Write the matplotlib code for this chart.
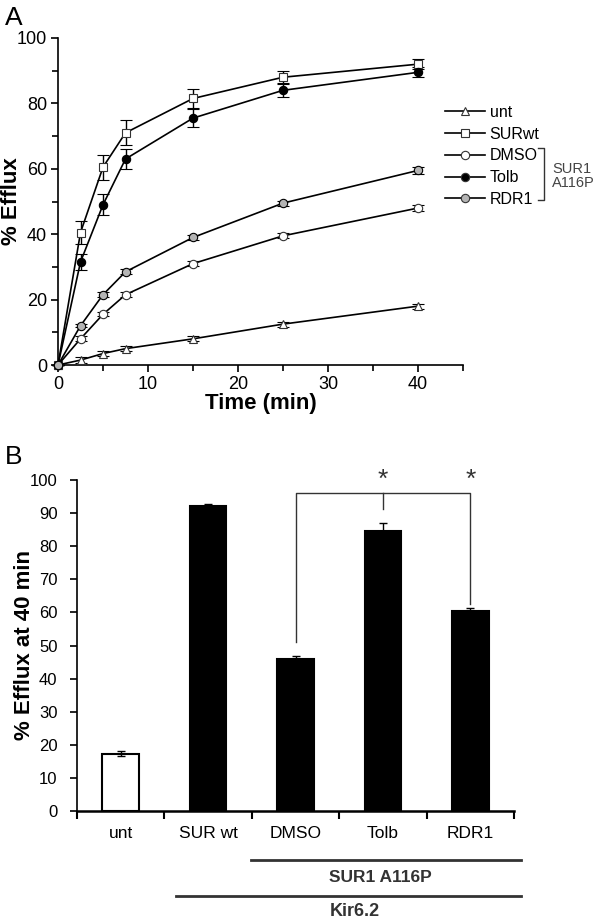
"""Efflux time course (A) and efflux at 40 min (B)."""
import matplotlib
matplotlib.use("Agg")
import matplotlib.pyplot as plt
from matplotlib.lines import Line2D
from matplotlib.ticker import MultipleLocator, FixedLocator
import numpy as np

plt.rcParams["font.family"] = ["Liberation Sans", "DejaVu Sans"]

# ---- panel A data ----
time_min = [0, 2.5, 5, 7.5, 15, 25, 40]
eff_unt = [0, 1.5, 3.5, 5.0, 8.0, 12.5, 18.0]
err_unt = [0, 0.8, 0.8, 0.8, 0.8, 0.8, 0.8]
eff_surwt = [0, 40.5, 60.5, 71.0, 81.5, 88.0, 92.0]
err_surwt = [0, 3.5, 3.8, 3.8, 2.8, 1.8, 1.5]
eff_dmso = [0, 8.0, 15.5, 21.5, 31.0, 39.5, 48.0]
err_dmso = [0, 0.8, 0.6, 0.8, 0.8, 0.8, 0.8]
eff_tolb = [0, 31.5, 49.0, 63.0, 75.5, 84.0, 89.5]
err_tolb = [0, 2.5, 3.2, 3.2, 2.8, 2.0, 1.5]
eff_rdr1 = [0, 12.0, 21.5, 28.5, 39.0, 49.5, 59.5]
err_rdr1 = [0, 0.5, 0.8, 0.8, 0.8, 0.8, 1.0]

# ---- panel B data ----
groups = ["unt", "SUR wt", "DMSO", "Tolb", "RDR1"]
eff40 = [17.3, 92.0, 46.0, 84.5, 60.5]
err40 = [0.7, 0.8, 0.8, 2.5, 0.8]
bar_fill = ["white", "black", "black", "black", "black"]

fig = plt.figure(figsize=(6, 9.24), dpi=100)

# ================= A =================
axA = fig.add_axes([58 / 600, 1 - 365 / 924, 405 / 600, 327 / 924])
series = [
    ("unt", eff_unt, err_unt, "^", "white"),
    ("SURwt", eff_surwt, err_surwt, "s", "white"),
    ("DMSO", eff_dmso, err_dmso, "o", "white"),
    ("Tolb", eff_tolb, err_tolb, "o", "black"),
    ("RDR1", eff_rdr1, err_rdr1, "o", "#b4b4b4"),
]
handles = []
for name, y, e, mk, fc in series:
    axA.errorbar(time_min, y, yerr=e, color="black", lw=1.2, marker=mk,
                 ms=6, mfc=fc, mec="black" if fc != "white" else "#333333",
                 mew=0.8, capsize=4, elinewidth=1.0, capthick=1.0, clip_on=False, zorder=3)
    handles.append(Line2D([], [], color="black", lw=1.2, marker=mk, ms=6,
                          mfc=fc, mec="#333333", mew=0.8))

axA.set_xlim(0, 45)
axA.set_ylim(0, 100)
axA.xaxis.set_major_locator(MultipleLocator(10))
axA.xaxis.set_minor_locator(MultipleLocator(5))
axA.yaxis.set_major_locator(MultipleLocator(20))
axA.yaxis.set_minor_locator(MultipleLocator(10))
axA.set_xticks([0, 10, 20, 30, 40])
for s in ("top", "right"):
    axA.spines[s].set_visible(False)
for s in ("left", "bottom"):
    axA.spines[s].set_linewidth(1.2)
axA.tick_params(which="major", direction="out", length=5, width=1.2, labelsize=13, pad=3)
axA.tick_params(which="minor", direction="out", length=4, width=1.2)
axA.set_xlabel("Time (min)", fontsize=16, fontweight="bold", labelpad=0)
axA.set_ylabel("% Efflux", fontsize=16, fontweight="bold")
axA.yaxis.set_label_coords((22 - 58) / 405, 0.5)

fig.legend(handles, [s[0] for s in series], loc="upper left",
           bbox_to_anchor=(445 / 600, 1 - 105 / 924), frameon=False,
           fontsize=11.5, handlelength=2.5, handletextpad=0.3,
           labelspacing=0.42, borderaxespad=0, borderpad=0)

# bracket grouping the SUR1 A116P entries
bx = 544 / 600
fig.add_artist(Line2D([bx - 6 / 600, bx, bx, bx - 6 / 600],
                      [1 - 148 / 924, 1 - 148 / 924, 1 - 200 / 924, 1 - 200 / 924],
                      color="#333333", lw=1.0, transform=fig.transFigure))
fig.text(552 / 600, 1 - 176 / 924, "SUR1\nA116P", fontsize=10.5, color="#444444",
         va="center", ha="left", linespacing=1.05)

fig.text(5 / 600, 1 - 18 / 924, "A", fontsize=19, va="center", ha="left")
fig.text(5 / 600, 1 - 457 / 924, "B", fontsize=19, va="center", ha="left")

# ================= B =================
axB = fig.add_axes([77 / 600, 1 - 811 / 924, 437 / 600, 331 / 924])
xpos = np.arange(len(groups))
axB.bar(xpos, eff40, width=0.42, color=bar_fill, edgecolor="black", linewidth=1.5, zorder=2)
axB.errorbar(xpos, eff40, yerr=err40, fmt="none", ecolor="black", elinewidth=1.0,
             capsize=3, capthick=1.0, zorder=3)
axB.set_xlim(-0.5, len(groups) - 0.5)
axB.set_ylim(0, 100)
axB.yaxis.set_major_locator(MultipleLocator(10))
axB.xaxis.set_major_locator(FixedLocator(xpos))
axB.xaxis.set_minor_locator(FixedLocator(np.arange(-0.5, len(groups), 1.0)))
axB.set_xticklabels(groups, fontsize=12.5)
axB.tick_params(axis="x", which="major", length=0, pad=11)
axB.tick_params(axis="x", which="minor", direction="out", length=6, width=1.5)
axB.tick_params(axis="y", direction="out", length=5, width=1.2, labelsize=12, pad=9)
for s in ("top", "right"):
    axB.spines[s].set_visible(False)
axB.spines["left"].set_linewidth(1.2)
axB.spines["bottom"].set_linewidth(1.8)
axB.set_ylabel("% Efflux at 40 min", fontsize=16, fontweight="bold")
axB.yaxis.set_label_coords((35 - 77) / 437, 0.5)

# significance bracket
br_col = "#333333"
axB.plot([2, 2, 4, 4], [51, 96, 96, 62.5], color=br_col, lw=1.0, clip_on=False)
axB.plot([3, 3], [96, 91.2], color=br_col, lw=1.0, clip_on=False)
for xi in (3, 4):
    axB.text(xi, 100, "*", fontsize=19, ha="center", va="center", color="#333333")

# grouping lines under the category labels
sur1_y = 1 - 860 / 924
kir_y = 1 - 896 / 924
fig.add_artist(Line2D([251 / 600, 521 / 600], [sur1_y, sur1_y], color="#333333",
                      lw=2.0, transform=fig.transFigure))
fig.text(380 / 600, 1 - 877 / 924, "SUR1 A116P", fontsize=12.5, fontweight="bold",
         ha="center", va="center", color="#333333")
fig.add_artist(Line2D([176 / 600, 521 / 600], [kir_y, kir_y], color="#333333",
                      lw=2.0, transform=fig.transFigure))
fig.text(355 / 600, 1 - 911 / 924, "Kir6.2", fontsize=13, fontweight="bold",
         ha="center", va="center", color="#333333")

fig.savefig("out.png", dpi=100)
